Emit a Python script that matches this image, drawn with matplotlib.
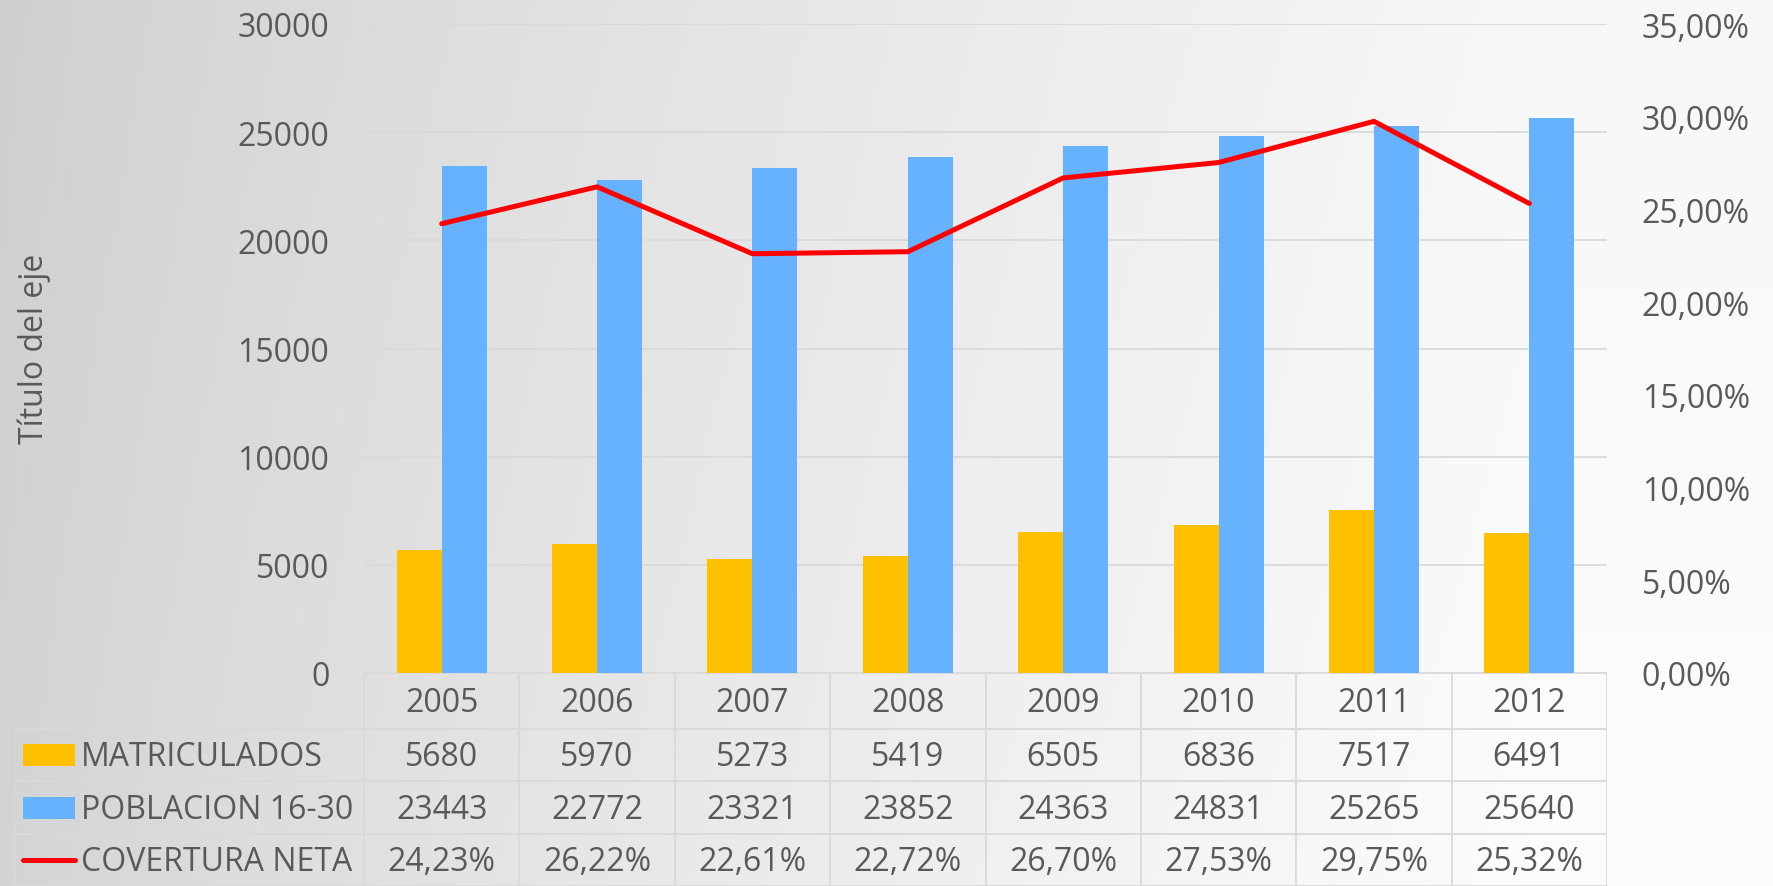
import numpy as np
import matplotlib
matplotlib.use("Agg")
from matplotlib import pyplot as plt
from matplotlib.patches import Rectangle
from matplotlib.lines import Line2D

# data
years = ["2005", "2006", "2007", "2008", "2009", "2010", "2011", "2012"]
matriculados = [5680, 5970, 5273, 5419, 6505, 6836, 7517, 6491]
poblacion = [23443, 22772, 23321, 23852, 24363, 24831, 25265, 25640]
covertura = [0.2423, 0.2622, 0.2261, 0.2272, 0.2670, 0.2753, 0.2975, 0.2532]
left_ticks = [0, 5000, 10000, 15000, 20000, 25000, 30000]
right_ticks = [0.0, 0.05, 0.10, 0.15, 0.20, 0.25, 0.30, 0.35]
series_names = ["MATRICULADOS", "POBLACION 16-30", "COVERTURA NETA"]

ORANGE = "#FFC000"
BLUE = "#66B2FF"
RED = "#FF0000"
TXT = "#595959"
GRID = "#d9d9d9"
FS = 23

plt.rcParams['font.family'] = ['Open Sans', 'DejaVu Sans']

W, H = 1774, 887
fig = plt.figure(figsize=(W / 100, H / 100), dpi=100)

# background gradient
bg = fig.add_axes([0, 0, 1, 1], zorder=-10)
gx = np.linspace(0, 1, 400)
gy = np.linspace(0, 1, 200)
GX, GY = np.meshgrid(gx, gy)
shade = 0.81 + 0.16 * np.clip(GX * 1.15, 0, 1) ** 0.8 + 0.02 * GY
bg.imshow(np.dstack([shade, shade, shade]), aspect="auto", extent=[0, 1, 0, 1],
          origin="upper")
bg.set_axis_off()


def px(x0, y0, x1, y1):
    """figure fraction rect from pixel box (top-left origin)"""
    return [x0 / W, 1 - y1 / H, (x1 - x0) / W, (y1 - y0) / H]


PL, PR, PT, PB = 364, 1607, 25, 674
ax = fig.add_axes(px(PL, PT, PR, PB))
ax.patch.set_alpha(0)
x = np.arange(len(years))
bw = 0.29
ax.bar(x - bw / 2, matriculados, bw, color=ORANGE, zorder=3)
ax.bar(x + bw / 2, poblacion, bw, color=BLUE, zorder=3)
ax.set_xlim(-0.5, len(years) - 0.5)
ax.set_ylim(0, 30000)
ax.set_yticks(left_ticks)
ax.set_yticklabels([str(t) for t in left_ticks])
ax.set_xticks([])
ax.yaxis.grid(True, color=GRID, lw=1.3, zorder=0)
ax.tick_params(axis="y", length=0, pad=25, labelsize=FS, labelcolor=TXT)
for s in ax.spines.values():
    s.set_visible(False)

ax2 = ax.twinx()
ax2.plot(x, covertura, color=RED, lw=3.6, solid_capstyle="round",
         solid_joinstyle="round", zorder=5)
ax2.set_ylim(0, 0.35)
ax2.set_yticks(right_ticks)
ax2.set_yticklabels([f"{t * 100:.2f}%".replace(".", ",") for t in right_ticks])
ax2.tick_params(axis="y", length=0, pad=25, labelsize=FS, labelcolor=TXT)
for s in ax2.spines.values():
    s.set_visible(False)

fig.text(34 / W, 1 - 349 / H, "Título del eje", rotation=90, ha="center",
         va="center", fontsize=FS, color=TXT)

# data table below the plot
TL = 15
tax = fig.add_axes(px(TL, PB, PR, H))
tax.set_axis_off()
colw = (PR - PL) / len(years)
lab_cols = (PL - TL) / colw
tax.set_xlim(-0.5 - lab_cols, len(years) - 0.5)
row_edges = [0, 56, 108, 161, 213]
tax.set_ylim(213, 0)
left_edge = -0.5 - lab_cols
lc = "#d9d9d9"

# horizontal lines
tax.plot([-0.5, len(years) - 0.5], [row_edges[0]] * 2, color=lc, lw=1.3)
for ry in row_edges[1:]:
    tax.plot([left_edge, len(years) - 0.5], [ry, ry], color=lc, lw=1.3)
# vertical lines
for cx in np.arange(len(years) + 1) - 0.5:
    tax.plot([cx, cx], [row_edges[0], row_edges[-1]], color=lc, lw=1.3)
tax.plot([left_edge, left_edge], [row_edges[1], row_edges[-1]], color=lc, lw=1.3)


def mid(i):
    return (row_edges[i] + row_edges[i + 1]) / 2


for i, yr in enumerate(years):
    tax.text(i, mid(0) + 2, yr, ha="center", va="center", fontsize=FS, color=TXT)

rows = [
    [str(v) for v in matriculados],
    [str(v) for v in poblacion],
    [f"{v * 100:.2f}%".replace(".", ",") for v in covertura],
]
for r, vals in enumerate(rows):
    for i, v in enumerate(vals):
        tax.text(i, mid(r + 1) + 2, v, ha="center", va="center", fontsize=FS,
                 color=TXT)

key_x0 = left_edge + 8 / colw
key_w = 52 / colw
for r, name in enumerate(series_names):
    ym = mid(r + 1)
    if r < 2:
        tax.add_patch(Rectangle((key_x0, ym - 11), key_w, 22,
                                color=[ORANGE, BLUE][r], lw=0))
    else:
        tax.add_line(Line2D([key_x0, key_x0 + key_w], [ym, ym], color=RED,
                            lw=3.6, solid_capstyle="round"))
    tax.text(key_x0 + key_w + 6 / colw, ym + 2, name, ha="left", va="center",
             fontsize=FS, color=TXT)

fig.savefig("out.png", dpi=100)
